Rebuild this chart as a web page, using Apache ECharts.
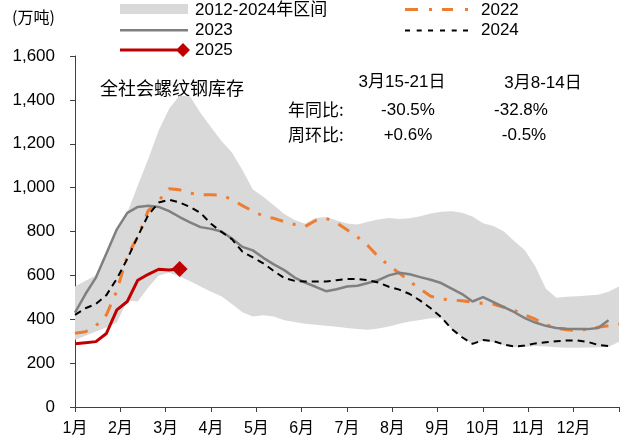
<!DOCTYPE html>
<html>
<head>
<meta charset="utf-8">
<script src="https://cdn.jsdelivr.net/npm/echarts@6/dist/echarts.min.js"></script>
<style>
  html, body { margin: 0; padding: 0; background: #fff; }
  #chart { width: 625px; height: 443px; }
</style>
</head>
<body>
<div id="chart"></div>
<script>
// 周序号（每年 53 个周度点）
const weeks = ['W1','W2','W3','W4','W5','W6','W7','W8','W9','W10','W11','W12','W13','W14','W15','W16','W17','W18',
  'W19','W20','W21','W22','W23','W24','W25','W26','W27','W28','W29','W30','W31','W32','W33','W34','W35','W36',
  'W37','W38','W39','W40','W41','W42','W43','W44','W45','W46','W47','W48','W49','W50','W51','W52','W53'];
const monthLabels = ['1月','2月','3月','4月','5月','6月','7月','8月','9月','10月','11月','12月'];

// 2012-2024 区间上下沿
const bandLow = [306,325,344,362,385,485,481,545,600,612,596,573,549,525,505,470,432,412,418,412,395,388,380,375,370,366,
  360,355,352,358,367,380,390,397,405,405,356,320,286,303,296,281,272,274,278,276,272,270,270,271,272,274,298];
const bandHigh = [549,575,600,705,805,885,1010,1130,1260,1360,1420,1415,1340,1275,1212,1160,1080,992,958,920,880,852,835,
  862,866,850,836,832,845,855,862,857,860,870,882,890,892,885,868,838,825,800,755,715,640,540,498,502,505,508,512,525,549];

const s2022 = [336,343,370,420,530,690,775,895,940,995,990,975,968,968,966,945,918,893,870,860,845,832,823,850,860,840,
  808,775,735,685,645,610,572,538,505,492,488,484,478,472,468,455,440,420,400,375,360,352,348,355,364,370,378];
const s2023 = [430,515,590,700,810,885,912,917,912,893,866,842,820,812,800,768,730,714,680,650,624,590,567,548,528,537,
  549,553,565,578,600,612,605,592,580,565,540,515,481,501,478,455,432,405,385,370,360,357,355,355,360,395];
const s2024 = [420,450,470,510,585,675,778,875,932,945,932,912,885,835,798,765,708,682,655,620,588,575,572,572,572,578,
  583,583,578,567,548,535,515,485,450,410,356,318,288,305,300,285,276,280,290,295,300,303,303,297,283,278];
const s2025 = [288,293,298,335,443,481,578,605,628,625,629];

const latin = "'Liberation Sans', 'Noto Sans CJK SC', sans-serif";
const cjk = "'Noto Sans CJK SC', 'Liberation Sans', sans-serif";

const bandDiff = bandHigh.map((v, i) => v - bandLow[i]);

const chart = echarts.init(document.getElementById('chart'), null, { renderer: 'canvas' });

chart.setOption({
  animation: false,
  backgroundColor: '#fff',
  grid: { left: 75, right: 6, top: 56, bottom: 36 },
  legend: [
    {
      left: 120, top: 1, orient: 'vertical', padding: 0,
      itemWidth: 70, itemHeight: 18, itemGap: 2,
      selectedMode: false,
      itemStyle: { borderWidth: 0 },
      textStyle: { fontSize: 17, fontFamily: latin, color: '#000', lineHeight: 18 },
      data: [
        { name: '2012-2024年区间', icon: 'path://M0,0M70,18M0,3L68,3L68,13L0,13Z' },
        { name: '2023', icon: 'path://M0,0M70,18M0,8L68,8L68,10.5L0,10.5Z' },
        { name: '2025', icon: 'path://M0,0M70,18M0,7.5L58,7.5L58,10.5L0,10.5Z M63,2L70,9L63,16L56,9Z' }
      ]
    },
    {
      left: 405, top: 1, orient: 'vertical', padding: 0,
      itemWidth: 71, itemHeight: 18, itemGap: 2,
      selectedMode: false,
      itemStyle: { borderWidth: 0 },
      textStyle: { fontSize: 17, fontFamily: latin, color: '#000', lineHeight: 18 },
      data: [
        { name: '2022', icon: 'path://M0,0M71,18M0,7L13,7L13,10L0,10Z M24,7L27,7L27,10L24,10Z M37,7L48,7L48,10L37,10Z M60,7L63,7L63,10L60,10Z' },
        { name: '2024', icon: 'path://M0,0M71,18M0,8.5L5,8.5L5,10.5L0,10.5Z M11.7,8.5L16.7,8.5L16.7,10.5L11.7,10.5Z M23,8.5L28,8.5L28,10.5L23,10.5Z M35,8.5L40,8.5L40,10.5L35,10.5Z M46.7,8.5L51.7,8.5L51.7,10.5L46.7,10.5Z M58,8.5L63,8.5L63,10.5L58,10.5Z' }
      ]
    }
  ],
  xAxis: [
    {
      type: 'category', data: weeks, boundaryGap: false, show: false
    },
    {
      type: 'value', min: 0, max: 12, interval: 1, position: 'bottom',
      axisLine: { show: true, lineStyle: { color: '#404040', width: 1 } },
      axisTick: { show: true, length: 5, lineStyle: { color: '#404040' } },
      splitLine: { show: false },
      axisLabel: {
        margin: 14, fontSize: 16, color: '#000', fontFamily: latin,
        formatter: v => (v < 12 ? monthLabels[v] : '')
      }
    }
  ],
  yAxis: {
    type: 'value', min: 0, max: 1600, interval: 200,
    axisLine: { show: true, lineStyle: { color: '#404040', width: 1 } },
    axisTick: { show: true, length: 5, lineStyle: { color: '#404040' } },
    splitLine: { show: false },
    axisLabel: {
      margin: 20, fontSize: 17, color: '#000', fontFamily: latin,
      formatter: v => v.toLocaleString('en-US')
    }
  },
  graphic: [
    { type: 'text', x: 12, y: 17, style: { text: '(万吨)', font: '16px ' + cjk, fill: '#000', verticalAlign: 'middle' } },
    { type: 'text', x: 100, y: 88, style: { text: '全社会螺纹钢库存', font: '18px ' + cjk, fill: '#000', verticalAlign: 'middle' } },
    { type: 'text', x: 402, y: 82, style: { text: '3月15-21日', font: '17px ' + latin, fill: '#000', align: 'center', verticalAlign: 'middle' } },
    { type: 'text', x: 543, y: 83, style: { text: '3月8-14日', font: '17px ' + latin, fill: '#000', align: 'center', verticalAlign: 'middle' } },
    { type: 'text', x: 288, y: 110, style: { text: '年同比:', font: '17px ' + cjk, fill: '#000', verticalAlign: 'middle' } },
    { type: 'text', x: 288, y: 135, style: { text: '周环比:', font: '17px ' + cjk, fill: '#000', verticalAlign: 'middle' } },
    { type: 'text', x: 408, y: 110, style: { text: '-30.5%', font: '17px ' + latin, fill: '#000', align: 'center', verticalAlign: 'middle' } },
    { type: 'text', x: 408, y: 135, style: { text: '+0.6%', font: '17px ' + latin, fill: '#000', align: 'center', verticalAlign: 'middle' } },
    { type: 'text', x: 521, y: 110, style: { text: '-32.8%', font: '17px ' + latin, fill: '#000', align: 'center', verticalAlign: 'middle' } },
    { type: 'text', x: 524, y: 135, style: { text: '-0.5%', font: '17px ' + latin, fill: '#000', align: 'center', verticalAlign: 'middle' } }
  ],
  series: [
    {
      name: 'bandBase', type: 'line', xAxisIndex: 0, stack: 'band', data: bandLow,
      symbol: 'none', silent: true, lineStyle: { opacity: 0 }, z: 1
    },
    {
      name: '2012-2024年区间', type: 'line', xAxisIndex: 0, stack: 'band', data: bandDiff,
      symbol: 'none', silent: true, color: '#d9d9d9',
      lineStyle: { opacity: 0 }, areaStyle: { color: '#d9d9d9', opacity: 1 }, z: 1
    },
    {
      name: '2022', type: 'line', xAxisIndex: 0, data: s2022, symbol: 'none', color: '#ed7d31',
      lineStyle: { width: 3, type: [13, 10, 3, 10], cap: 'butt' }, z: 3
    },
    {
      name: '2023', type: 'line', xAxisIndex: 0, data: s2023, symbol: 'none', color: '#808080',
      lineStyle: { width: 2.5 }, z: 3
    },
    {
      name: '2024', type: 'line', xAxisIndex: 0, data: s2024, symbol: 'none', color: '#000',
      lineStyle: { width: 2, type: [7, 5] }, z: 3
    },
    {
      name: '2025', type: 'line', xAxisIndex: 0, data: s2025, color: '#c00000',
      symbol: 'diamond', showAllSymbol: true,
      symbolSize: (v, p) => (p.dataIndex === s2025.length - 1 ? 16 : 0),
      lineStyle: { width: 3 }, z: 4
    }
  ]
});
</script>
</body>
</html>
